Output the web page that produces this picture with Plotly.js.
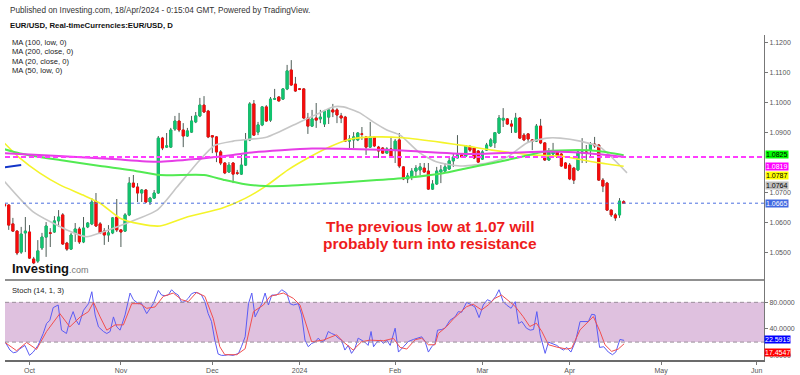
<!DOCTYPE html>
<html><head><meta charset="utf-8">
<script src="https://cdn.plot.ly/plotly-3.0.1.min.js"></script>
<style>html,body{margin:0;padding:0;background:#fff;}#chart{width:800px;height:375px;}</style>
</head><body><div id="chart"></div>
<script>
// Daily EUR/USD candles, 22 Sep 2023 .. 18 Apr 2024 (trading-day index 0..149)
const open  = [1.0662,1.0659,1.0596,1.0572,1.0502,1.0566,1.0569,1.0479,1.0472,1.0516,1.0552,1.0566,1.0569,1.0606,1.0626,1.0532,1.0512,1.0566,1.0579,1.0536,1.0586,1.0596,1.0672,1.0596,1.0572,1.0559,1.0566,1.0619,1.0576,1.0572,1.0626,1.0732,1.0719,1.0699,1.0709,1.0669,1.0682,1.0699,1.0882,1.0852,1.0852,1.0912,1.0939,1.0909,1.0889,1.0902,1.0936,1.0956,1.0992,1.0972,1.0890,1.0886,1.0836,1.0799,1.0769,1.0799,1.0766,1.0762,1.0792,1.0876,1.0996,1.0902,1.0926,1.0986,1.0942,1.1012,1.1019,1.1012,1.1046,1.1109,1.1062,1.1046,1.1046,1.0949,1.0922,1.0949,1.0946,1.0929,1.0952,1.0976,1.0976,1.0956,1.0952,1.0872,1.0876,1.0876,1.0896,1.0886,1.0852,1.0886,1.0852,1.0849,1.0832,1.0846,1.0842,1.0876,1.0786,1.0746,1.0752,1.0772,1.0776,1.0782,1.0772,1.0712,1.0729,1.0769,1.0772,1.0779,1.0806,1.0816,1.0826,1.0822,1.0852,1.0849,1.0839,1.0812,1.0842,1.0856,1.0866,1.0899,1.0942,1.0946,1.0929,1.0902,1.0949,1.0892,1.0896,1.0876,1.0872,1.0922,1.0866,1.0809,1.0829,1.0836,1.0829,1.0799,1.0792,1.0782,1.0776,1.0832,1.0836,1.0842,1.0862,1.0859,1.0742,1.0732,1.0642,1.0626,1.0626,1.0670];
const high  = [1.0669,1.0662,1.0616,1.0575,1.0586,1.0619,1.0592,1.0486,1.0542,1.0566,1.0602,1.0582,1.0622,1.0642,1.0632,1.0536,1.0566,1.0599,1.0586,1.0619,1.0602,1.0682,1.0699,1.0602,1.0582,1.0592,1.0619,1.0679,1.0579,1.0632,1.0752,1.0759,1.0732,1.0712,1.0712,1.0686,1.0709,1.0889,1.0886,1.0899,1.0916,1.0956,1.0966,1.0932,1.0916,1.0956,1.0969,1.1016,1.1022,1.0976,1.0892,1.0889,1.0842,1.0802,1.0802,1.0802,1.0776,1.0826,1.0899,1.1002,1.1009,1.0936,1.0989,1.0992,1.1019,1.1046,1.1022,1.1049,1.1126,1.1142,1.1086,1.1049,1.1049,1.0966,1.0976,1.0999,1.0976,1.0976,1.0979,1.0996,1.0982,1.0966,1.0956,1.0892,1.0902,1.0902,1.0919,1.0889,1.0936,1.0889,1.0856,1.0852,1.0852,1.0886,1.0879,1.0899,1.0789,1.0766,1.0782,1.0792,1.0799,1.0799,1.0799,1.0742,1.0786,1.0792,1.0799,1.0816,1.0832,1.0892,1.0832,1.0859,1.0859,1.0852,1.0842,1.0842,1.0866,1.0882,1.0902,1.0959,1.0982,1.0949,1.0942,1.0966,1.0952,1.0899,1.0899,1.0879,1.0929,1.0946,1.0869,1.0849,1.0866,1.0839,1.0832,1.0802,1.0799,1.0786,1.0839,1.0882,1.0859,1.0869,1.0886,1.0862,1.0749,1.0736,1.0644,1.0632,1.0682,1.0675];
const low   = [1.0649,1.0576,1.0569,1.0492,1.0496,1.0502,1.0479,1.0462,1.0466,1.0509,1.0486,1.0519,1.0566,1.0586,1.0526,1.0506,1.0509,1.0536,1.0529,1.0532,1.0582,1.0592,1.0586,1.0562,1.0526,1.0536,1.0562,1.0569,1.0519,1.0569,1.0622,1.0716,1.0669,1.0669,1.0666,1.0659,1.0679,1.0696,1.0842,1.0849,1.0849,1.0906,1.0902,1.0852,1.0886,1.0899,1.0932,1.0952,1.0966,1.0882,1.0832,1.0802,1.0792,1.0762,1.0766,1.0732,1.0759,1.0759,1.0789,1.0872,1.0889,1.0892,1.0922,1.0936,1.0936,1.1009,1.1004,1.1009,1.1042,1.1056,1.1036,1.1042,1.0946,1.0896,1.0919,1.0916,1.0932,1.0919,1.0929,1.0952,1.0932,1.0932,1.0869,1.0849,1.0849,1.0872,1.0876,1.0826,1.0849,1.0852,1.0816,1.0830,1.0830,1.0816,1.0799,1.0782,1.0742,1.0732,1.0742,1.0752,1.0759,1.0766,1.0709,1.0709,1.0726,1.0732,1.0766,1.0776,1.0786,1.0815,1.0816,1.0819,1.0836,1.0812,1.0799,1.0809,1.0839,1.0852,1.0849,1.0896,1.0919,1.0926,1.0899,1.0899,1.0879,1.0872,1.0869,1.0842,1.0869,1.0862,1.0806,1.0806,1.0819,1.0816,1.0786,1.0780,1.0742,1.0729,1.0772,1.0799,1.0799,1.0816,1.0849,1.0739,1.0702,1.0639,1.0619,1.0606,1.0616,1.0663];
const close = [1.0656,1.0592,1.0572,1.0499,1.0562,1.0572,1.0482,1.0466,1.0506,1.0552,1.0589,1.0565,1.0606,1.0619,1.0529,1.0512,1.0559,1.0579,1.0536,1.0582,1.0599,1.0669,1.0589,1.0566,1.0559,1.0566,1.0616,1.0576,1.0569,1.0626,1.0732,1.0719,1.0699,1.0709,1.0669,1.0682,1.0699,1.0882,1.0849,1.0856,1.0909,1.0939,1.0909,1.0889,1.0906,1.0939,1.0956,1.0992,1.0969,1.0886,1.0886,1.0836,1.0799,1.0766,1.0792,1.0762,1.0765,1.0792,1.0876,1.0996,1.0892,1.0926,1.0986,1.0939,1.1012,1.1013,1.1006,1.1046,1.1106,1.1059,1.1039,1.1045,1.0949,1.0922,1.0946,1.0942,1.0952,1.0972,1.0976,1.0969,1.0959,1.0949,1.0872,1.0879,1.0886,1.0899,1.0895,1.0852,1.0886,1.0856,1.0839,1.0832,1.0846,1.0819,1.0872,1.0789,1.0746,1.0756,1.0772,1.0782,1.0786,1.0769,1.0712,1.0729,1.0772,1.0776,1.0786,1.0806,1.0819,1.0826,1.0819,1.0856,1.0842,1.0816,1.0802,1.0836,1.0859,1.0876,1.0900,1.0949,1.0948,1.0929,1.0922,1.0949,1.0882,1.0876,1.0879,1.0872,1.0922,1.0866,1.0809,1.0839,1.0839,1.0819,1.0789,1.0782,1.0746,1.0742,1.0836,1.0836,1.0832,1.0862,1.0856,1.0742,1.0722,1.0642,1.0626,1.0616,1.0672,1.0665];

// Moving averages (x = trading-day index)
const ma200X = [0,13,26,37,46,55,60,74,93,112,131,141,149];
const ma200Y = [1.0832,1.0822,1.0812,1.0803,1.0812,1.0826,1.0835,1.0847,1.0842,1.0829,1.0837,1.0831,1.0820];
const ma100X = [0,3.7,13.3,23,30.2,37.4,48,53,57.9,62.7,68.2,74.7,89.6,97.6,105.5,111,117.3,123.6,130.1,138,142.8,149];
const ma100Y = [1.0845,1.0831,1.0809,1.0789,1.0776,1.0759,1.0759,1.0742,1.0728,1.0722,1.0723,1.0728,1.0742,1.0751,1.0765,1.0781,1.0798,1.0817,1.0837,1.0842,1.0839,1.0825];
const ma50X  = [0,3.7,8.5,13.3,18.9,23,27.8,32.6,37.4,44.1,52.3,57.9,62.7,68.2,74,78.3,83.1,89.6,95.9,105.5,111,117.3,126.9,134.9,141.4,149];
const ma50Y  = [1.0865,1.0815,1.0765,1.0726,1.0692,1.0665,1.0615,1.0596,1.0589,1.0620,1.0648,1.0681,1.0720,1.0776,1.0823,1.0853,1.0878,1.0886,1.0883,1.0867,1.0856,1.0842,1.0826,1.0820,1.0803,1.0788];
const ma20X  = [0,6.8,15,19.8,23,29.5,36.7,41.5,47,50.6,55,63.2,71.1,75.2,79,81.5,85.5,88.7,92,95.2,100,104.1,109.6,115.1,121,125.7,130.5,133.7,138.5,143.3,149.8];
const ma20Y  = [1.0737,1.0637,1.0576,1.0553,1.0566,1.0599,1.0642,1.0719,1.0809,1.0858,1.0872,1.0886,1.0936,1.0962,1.0986,1.0986,1.0966,1.0936,1.0909,1.0892,1.0832,1.0802,1.0789,1.0796,1.0819,1.0866,1.0882,1.0882,1.0872,1.0852,1.0766];
const blueSegX = [0,4];
const blueSegY = [1.0785,1.0792];

// Stochastic (14,1,3)
const stochKX = [0.1,1.3,2.1,2.9,3.7,4.9,6,6.9,8.1,9.3,10.1,10.9,11.7,12.9,13.7,14.9,15.7,16.5,17.2,17.9,19,20.2,21,21.8,22.6,23.8,24.6,25.4,26.2,27,27.8,29,30.2,31,32.2,33,34.2,35,35.8,37,37.8,38.6,39.4,40.2,41,41.8,42.6,43.4,44.2,45,45.8,46.6,47.4,48.2,49,49.8,50.6,51.4,52.2,53,53.8,55,56.3,57,57.9,58.7,59.5,60.3,61.1,61.9,62.7,63.5,64.3,65.5,66.7,67.9,68.7,69.5,70.7,71.5,72.3,73.1,73.9,74.7,75.5,76.3,77.1,77.9,78.7,79.5,80.3,81.1,81.9,82.7,83.5,84.3,85.1,85.9,86.7,87.5,88.2,88.8,89.6,90.4,91.2,92,92.8,94,94.8,96,97.2,98.4,99.6,100.4,101.2,102,102.8,103.6,104.2,105.2,106,107.2,108.4,109.2,110,111.2,112.4,113.2,114.2,115.2,116.2,117.2,118.2,119,120,120.8,121.9,122.9,123.7,124.5,125.6,126.5,127.3,128.1,128.9,130.1,130.9,131.9,132.9,133.7,134.5,135.3,136.3,137.4,138.5,139.7,140.5,141.3,142.1,143.2,144.2,145.3,146.3,147.1,148.1,149.1];
const stochK  = [20.5,8,4,5,10,15,0,5,15.5,33,48,53,72,76,38,33,53,66,53,46,68,78,96,61,43,36,33,36,58,43,38,61,94,84,78,78,63,71,78,98,91,90,91,99,94,91,80,81,86,93,95,94,91,81,63,51,23,2,0,0,1,0,3,13,28,78,94,58,68,78,94,76,91,91,99,94,78,76,78,61,23,13,18,20,26,20,23,36,33,31,26,23,8,15,3,10,26,23,20,15,36,13,20,23,18,23,15,41,5,13,21,24,26,28,21,5,13,18,38,39,41,53,58,66,65,80,76,73,57,76,84,81,89,99,81,76,71,81,48,51,41,38,39,66,31,3,20,18,15,11,8,12,5,21,51,51,51,62,61,12,13,5,1,5,24,22.5919];
const stochDX = [0.1,2.9,5.3,7.7,10.1,13.3,15.7,18.2,20.2,21.4,23,24.6,26.6,28.6,30.6,32.6,34.2,36.2,38.2,40.6,42.6,44.2,46.2,48.2,50.2,51.8,53,55.9,57.9,59.9,62.3,63.9,67.1,69.5,71.1,73.9,76.7,79.9,81.5,83.9,85.9,87.9,91.2,93.6,95.2,96.8,98.8,100.4,102,103.6,104.4,106.4,108,109.6,111.2,112.8,114.8,116.4,118,119.6,121.2,122.8,124.8,126.4,128,129.3,130.9,132.9,135.3,136.5,138.5,140.1,141.7,143.3,144.5,146.1,147.7,149.1];
const stochD  = [19.5,7,19.5,9,36,63,43,58,66,80,58,38,46,46,78,78,71,73,89,94,84,81,95,89,56,13,1,1,10,66,76,89,94,86,76,20.5,23,31,20.5,8,20.5,23,22,25.6,12,9.5,23.5,26,16,16,33,43.5,55,64.5,73.5,77,68.5,76,86,91,82.5,74.5,58.5,43.5,48.5,36,16,12.5,9.5,11,38.5,48.5,58.5,36,16,6,9.5,17.4547];

// Axis ticks and right-side value tags (1.0800 is hidden behind the tags in the reference)
const monthTickIdx  = [6,28,50,71,94,115,136,158,181];
const monthTickText = ['Oct','Nov','Dec','2024','Feb','Mar','Apr','May','Jun'];
const priceTicks = [1.05,1.06,1.07,1.09,1.10,1.11,1.12];
const stochTicks = [0,40,80];
const tagValues  = [1.0825,1.0819,1.0787,1.0764,1.0665];
const ma200Level = 1.0819;
const lastPrice  = 1.0665;
const stochBand  = [20,80];
const stochLast  = [22.5919,17.4547];

const idx = open.map((_, i) => i);
const bodyHigh = open.map((o, i) => Math.max(o, close[i]));
const bodyLow  = open.map((o, i) => Math.min(o, close[i]));

const GREEN = '#12c46f', RED = '#f80a0a', WICK = '#4e5d57';
const F = 'Liberation Sans, Arial, sans-serif';

const lineTrace = (x, y, color, w) => ({type:'scatter', mode:'lines', x, y, xaxis:'x', yaxis:'y',
  line:{color, width:w, shape:'spline', smoothing:0.6}, hoverinfo:'skip', showlegend:false});

const traces = [
  lineTrace(ma20X, ma20Y, '#c6c6c6', 1.6),
  lineTrace(ma50X, ma50Y, '#f4f42a', 1.6),
  lineTrace(ma100X, ma100Y, '#52ea52', 2),
  lineTrace(ma200X, ma200Y, '#e63ee6', 2),
  {type:'scatter', mode:'lines', x:blueSegX, y:blueSegY, line:{color:'#1234c8', width:2}, showlegend:false, hoverinfo:'skip'},
  {type:'candlestick', x:idx, open, high, low, close, xaxis:'x', yaxis:'y',
    increasing:{line:{color:WICK, width:1}, fillcolor:WICK},
    decreasing:{line:{color:WICK, width:1}, fillcolor:WICK},
    whiskerwidth:0, showlegend:false, hoverinfo:'skip'},
  {type:'candlestick', x:idx, open, high:bodyHigh, low:bodyLow, close, xaxis:'x', yaxis:'y',
    increasing:{line:{color:GREEN, width:1}, fillcolor:GREEN},
    decreasing:{line:{color:RED, width:1}, fillcolor:RED},
    whiskerwidth:0, showlegend:false, hoverinfo:'skip'},
  {type:'scatter', mode:'lines', x:stochKX, y:stochK, xaxis:'x', yaxis:'y2', line:{color:'#5a5cf5', width:1}, showlegend:false, hoverinfo:'skip'},
  {type:'scatter', mode:'lines', x:stochDX, y:stochD, xaxis:'x', yaxis:'y2', line:{color:'#f24f4f', width:1}, showlegend:false, hoverinfo:'skip'}
];

const SPLIT = 80/325;
const tagStyle = [
  {bg:'#00ff00', fg:'#000', shift:0.5},
  {bg:'#ff00ff', fg:'#fff', shift:-9.5},
  {bg:'#ffff00', fg:'#000', shift:-9},
  {bg:'#c0c0c0', fg:'#000', shift:-12},
  {bg:'#4169e1', fg:'#fff', shift:0}
];
const annotations = [];
tagValues.forEach((v, k) => annotations.push({xref:'paper', yref:'y', x:1, y:v, xanchor:'left', yanchor:'middle',
  xshift:1, yshift:tagStyle[k].shift, text:v.toFixed(4), showarrow:false, bgcolor:tagStyle[k].bg,
  font:{family:F, size:7, color:tagStyle[k].fg}, borderpad:0}));
const stochTag = [{bg:'#0000ff', shift:0.5},{bg:'#ff0000', shift:-8.5}];
stochLast.forEach((v, k) => annotations.push({xref:'paper', yref:'y2', x:1, y:v, xanchor:'left', yanchor:'middle',
  xshift:0, yshift:stochTag[k].shift, text:v.toFixed(4), showarrow:false, bgcolor:stochTag[k].bg,
  font:{family:F, size:7, color:'#fff'}, borderpad:0}));

const py = px => (360 - px) / 325;   // pixel row -> paper y
const pxX = px => (px - 5) / 759;    // pixel col -> paper x
const txt = (text, x, y, size, opts={}) => Object.assign({xref:'paper', yref:'paper', x:pxX(x), y:py(y),
  xanchor:'left', yanchor:'middle', text, showarrow:false, font:{family:F, size, color:'#222'}}, opts);

annotations.push(
  txt('Published on Investing.com, 18/Apr/2024 - 0:15:04 GMT, Powered by TradingView.', 8, 11, 8.2, {font:{family:F, size:8.2, color:'#333'}}),
  txt('<b>EUR/USD, Real-timeCurrencies:EUR/USD, D</b>', 8, 25.5, 7.8, {font:{family:F, size:7.8, color:'#111'}}),
  txt('MA (100, low, 0)', 10, 43, 7.6),
  txt('MA (200, close, 0)', 10, 52, 7.6),
  txt('MA (20, close, 0)', 10, 61.5, 7.6),
  txt('MA (50, low, 0)', 10, 70.5, 7.6),
  txt('Stoch (14, 1, 3)', 10, 290, 7.6),
  txt('<b>Investing</b><span style="font-size:9px;color:#777">.com</span>', 10, 268, 13, {font:{family:F, size:13, color:'#111'}}),
  txt('<b>The previous low at 1.07 will</b>', 430, 227, 15.5, {xanchor:'center', font:{family:F, size:15.5, color:'#ee1c1c'}}),
  txt('<b>probably turn into resistance</b>', 430, 243.5, 15.5, {xanchor:'center', font:{family:F, size:15.5, color:'#ee1c1c'}})
);

const shapes = [
  {type:'rect', xref:'paper', yref:'y2', x0:0, x1:1, y0:stochBand[0], y1:stochBand[1], fillcolor:'#dfc1df', line:{width:0}, layer:'below'},
  {type:'line', xref:'paper', yref:'y2', x0:0, x1:1, y0:stochBand[0], y1:stochBand[0], line:{color:'#9a8f9a', width:1, dash:'4px,3px'}},
  {type:'line', xref:'paper', yref:'y2', x0:0, x1:1, y0:stochBand[1], y1:stochBand[1], line:{color:'#9a8f9a', width:1, dash:'4px,3px'}},
  {type:'line', xref:'paper', yref:'paper', x0:0, x1:1, y0:SPLIT, y1:SPLIT, line:{color:'#6b6b6b', width:1.5}},
  {type:'line', xref:'paper', yref:'y', x0:0, x1:1, y0:ma200Level, y1:ma200Level, line:{color:'#ff3cff', width:2, dash:'5px,3px'}, layer:'above'},
  {type:'line', xref:'paper', yref:'y', x0:0, x1:1, y0:lastPrice, y1:lastPrice, line:{color:'#4a6fe0', width:1, dash:'dot'}, layer:'above'}
];

const axisFont = {family:F, size:7, color:'#555'};
const layout = {
  width:800, height:375, margin:{l:5, r:36, t:35, b:15},
  paper_bgcolor:'#fff', plot_bgcolor:'#fff', showlegend:false, hovermode:false,
  xaxis:{range:[0.103, 182.77], tickmode:'array', tickvals:monthTickIdx, ticktext:monthTickText,
    ticks:'outside', ticklen:3, tickcolor:'#777', showline:true, linecolor:'#6b6b6b', linewidth:1.5,
    showgrid:false, zeroline:false, anchor:'y2', tickfont:axisFont, rangeslider:{visible:false}, fixedrange:true},
  yaxis:{domain:[SPLIT, 1], range:[1.0409, 1.12257], side:'right', anchor:'x', tickmode:'array', tickvals:priceTicks,
    tickformat:'.4f', ticks:'outside', ticklen:3, tickcolor:'#777', showline:true, linecolor:'#777',
    showgrid:false, zeroline:false, tickfont:axisFont, fixedrange:true},
  yaxis2:{domain:[0, SPLIT], range:[-7, 113.7], side:'right', anchor:'x', tickmode:'array', tickvals:stochTicks,
    tickformat:'.4f', ticks:'outside', ticklen:3, tickcolor:'#777', showline:true, linecolor:'#777',
    showgrid:false, zeroline:false, tickfont:axisFont, fixedrange:true},
  shapes, annotations
};
Plotly.newPlot('chart', traces, layout, {staticPlot:true, displayModeBar:false});
</script>
</body></html>
